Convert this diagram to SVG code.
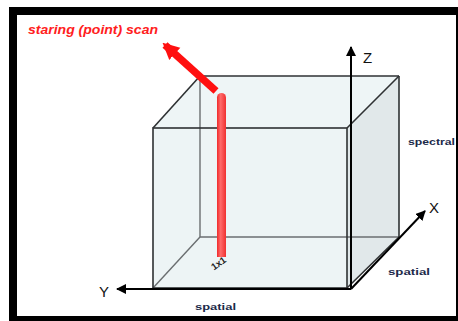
<svg xmlns="http://www.w3.org/2000/svg" width="458" height="321" viewBox="0 0 458 321">
<defs>
<style>
.edge-back{stroke:#6a6e70;stroke-width:1.4;fill:none}
.edge-front{stroke:#2e3133;stroke-width:1.6;fill:none}
.axis{stroke:#000;stroke-width:2;fill:none}
.axlab{font-family:"Liberation Sans",Arial,sans-serif;font-size:15px;fill:#111}
.dim{font-family:"Liberation Sans",Arial,sans-serif;font-size:9.5px;font-weight:bold;fill:#1c2a4a}
</style>
<marker id="ah" viewBox="0 0 10 10" refX="9" refY="5" markerWidth="5" markerHeight="5" orient="auto" markerUnits="strokeWidth">
<path d="M0,0 L10,5 L0,10 z" fill="#000"/>
</marker>
<marker id="rah" viewBox="0 0 10 10" refX="8" refY="5" markerWidth="2.2" markerHeight="2.4" orient="auto" markerUnits="strokeWidth">
<path d="M0,0 L10,5 L0,10 z" fill="#ff1010"/>
</marker>
<linearGradient id="bar" x1="0" y1="0" x2="1" y2="0">
<stop offset="0" stop-color="#f02a2a"/>
<stop offset="0.4" stop-color="#ff6a6a"/>
<stop offset="1" stop-color="#f03030"/>
</linearGradient>
</defs>
<rect width="458" height="321" fill="#fff"/>
<g id="frame" fill="#000">
<rect x="9" y="7" width="449" height="8"/>
<rect x="9" y="7" width="8" height="314"/>
<rect x="456" y="7" width="2" height="314"/>
<rect x="9" y="316" width="449" height="5"/>
</g>
<g id="cube">
<polygon points="153,128 200,76 399,76 347,128" fill="#eef5f6"/>
<rect x="153" y="128" width="194" height="160" fill="#edf4f5"/>
<polygon points="347,128 399,76 399,237 347,288" fill="#e1e8ea"/>
<line class="edge-back" x1="200" y1="76" x2="200" y2="237"/>
<line class="edge-back" x1="200" y1="237" x2="399" y2="237"/>
<line class="edge-back" x1="200" y1="237" x2="153" y2="288"/>
<line class="edge-front" x1="153" y1="128" x2="200" y2="76"/>
<line class="edge-front" x1="200" y1="76" x2="399" y2="76"/>
<line class="edge-front" x1="399" y1="76" x2="347" y2="128"/>
<line class="edge-front" x1="399" y1="76" x2="399" y2="237"/>
<line class="edge-front" x1="399" y1="237" x2="347" y2="288"/>
<rect class="edge-front" x="153" y="128" width="194" height="160"/>
</g>
<g id="connectors">
<line class="axis" x1="351" y1="289" x2="351" y2="47" marker-end="url(#ah)"/>
<line class="axis" x1="351" y1="289" x2="117" y2="289" marker-end="url(#ah)"/>
<line class="axis" x1="351" y1="289" x2="425" y2="211" marker-end="url(#ah)"/>
<line x1="216" y1="91" x2="165" y2="45" stroke="#ff1010" stroke-width="7.5" marker-end="url(#rah)"/>
</g>
<g id="axis-labels">
<text class="axlab" x="363" y="63">Z</text>
<text class="axlab" x="99" y="297">Y</text>
<text class="axlab" x="429" y="213">X</text>
</g>
<g id="scan-bar">
<path d="M217,97.5 a4.5,4.5 0 0 1 9,0 V257 H217 Z" fill="url(#bar)"/>
<text x="210" y="268" transform="rotate(-35 216 263)" font-family="Liberation Sans,Arial,sans-serif" font-size="9.5" font-weight="bold" fill="#222">1x1</text>
</g>
<g id="labels">
<text x="28" y="34" font-family="Liberation Sans,Arial,sans-serif" font-size="12.5" font-weight="bold" font-style="italic" fill="#ff2020" textLength="130" lengthAdjust="spacingAndGlyphs">staring (point) scan</text>
<text class="dim" x="408" y="145" textLength="47" lengthAdjust="spacingAndGlyphs">spectral</text>
<text class="dim" x="388" y="275" textLength="42" lengthAdjust="spacingAndGlyphs">spatial</text>
<text class="dim" x="195" y="310" textLength="41" lengthAdjust="spacingAndGlyphs">spatial</text>
</g>
</svg>
